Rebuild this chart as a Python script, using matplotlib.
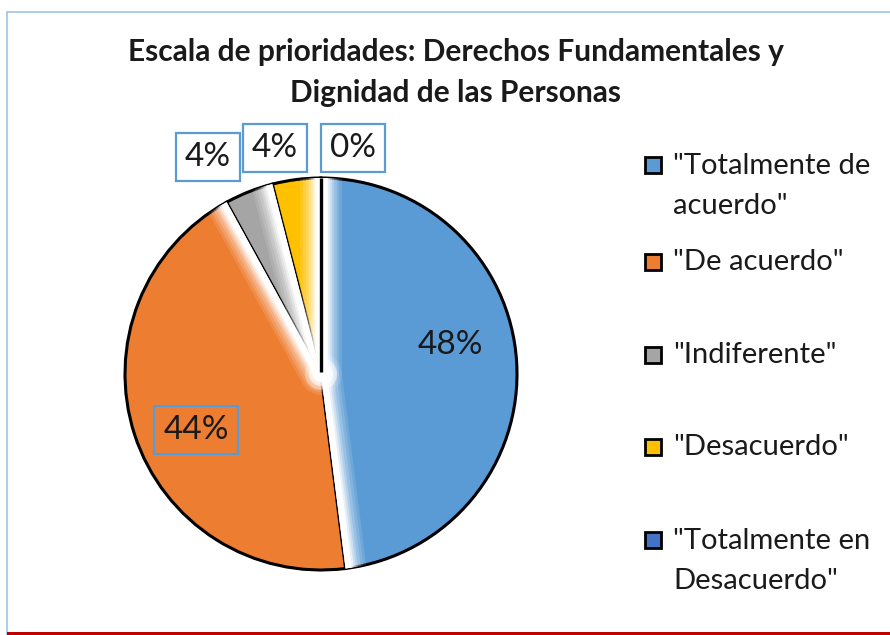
import matplotlib.pyplot as plt
import matplotlib.patches as patches
import numpy as np

plt.rcParams['font.family'] = ['Lato', 'DejaVu Sans']

# datos
categorias = ['"Totalmente de\nacuerdo"', '"De acuerdo"', '"Indiferente"',
              '"Desacuerdo"', '"Totalmente en\nDesacuerdo"']
respuestas = [12, 11, 1, 1, 0]
etiquetas = ['48%', '44%', '4%', '4%', '0%']
colores = ['#5B9BD5', '#ED7D31', '#A5A5A5', '#FFC000', '#4472C4']

W, H = 890, 635
fig = plt.figure(figsize=(W / 100, H / 100), dpi=100)
ax = fig.add_axes([0, 0, 1, 1])

# marco del gráfico
fig.patches.append(patches.Rectangle((7 / W, 0), 1, (H - 12) / H, transform=fig.transFigure,
                                     fill=False, edgecolor='#9DC3E6', lw=1.2))
fig.patches.append(patches.Rectangle((7 / W, 0), 1, 3 / H, transform=fig.transFigure,
                                     facecolor='#C00000', edgecolor='none'))

# pastel
centro = (321, H - 374)
radio = 196
wedges, _ = ax.pie(respuestas, colors=colores, startangle=90, counterclock=False,
                   radius=radio, center=centro,
                   wedgeprops=dict(edgecolor='black', linewidth=2.2), frame=True)
ax.set_xlim(0, W)
ax.set_ylim(0, H)
ax.set_aspect('equal')
ax.axis('off')

# brillo blanco en el borde de cada sector (efecto de Excel)
n = len(wedges)
capas = [(30, 0.12), (26, 0.14), (22, 0.18), (18, 0.25), (15, 0.35), (12, 0.55), (9, 1.0)]
for i, w in enumerate(wedges):
    if respuestas[i] == 0:
        ang, clip = w.theta2, wedges[(i + 1) % n]
    else:
        ang, clip = w.theta1, w
    cx, cy = w.center
    t = np.deg2rad(ang)
    xs = [cx, cx + w.r * np.cos(t)]
    ys = [cy, cy + w.r * np.sin(t)]
    for lw, al in capas:
        ln, = ax.plot(xs, ys, color='white', lw=lw, alpha=al, solid_capstyle='round')
        ln.set_clip_path(clip)
    for rr, al in [(16, 0.3), (12, 0.5), (8, 1.0)]:
        blob = patches.Circle((cx, cy), rr, facecolor='white', edgecolor='none', alpha=al)
        ax.add_patch(blob)
        blob.set_clip_path(clip)

# la línea del sector de 0% queda encima
for i, w in enumerate(wedges):
    if respuestas[i] == 0:
        cx, cy = w.center
        t = np.deg2rad(w.theta1)
        ax.plot([cx, cx + w.r * np.cos(t)], [cy + 2, cy + w.r * np.sin(t)],
                color='black', lw=2.4, solid_capstyle='butt')

# etiquetas de datos
pos_etiquetas = [(450, 345), (196, 430), (208, 157), (275, 148), (353, 148)]
con_caja = [False, True, True, True, True]
for txt, (x, y), caja in zip(etiquetas, pos_etiquetas, con_caja):
    bbox = dict(boxstyle='square,pad=0.28', facecolor='none', edgecolor='#5B9BD5', lw=1.6) if caja else None
    ax.text(x, H - y, txt, ha='center', va='center', fontsize=24, color='#1a1a1a', bbox=bbox)

# título
ax.text(456, H - 52, 'Escala de prioridades: Derechos Fundamentales y',
        ha='center', va='center', fontsize=21.5, fontweight='bold', color='#1a1a1a')
ax.text(456, H - 93, 'Dignidad de las Personas',
        ha='center', va='center', fontsize=21.5, fontweight='bold', color='#1a1a1a')

# leyenda
ley_y = [165, 262, 355, 447, 540]
for cat, col, y in zip(categorias, colores, ley_y):
    ax.add_patch(patches.Rectangle((645, H - y - 8), 16, 16, facecolor=col,
                                   edgecolor='black', lw=2))
    lineas = cat.count('\n')
    ax.text(673, H - y - lineas * 21, cat, ha='left', va='center', fontsize=21,
            color='#1a1a1a', linespacing=1.7)

fig.savefig('out.png', dpi=100)
